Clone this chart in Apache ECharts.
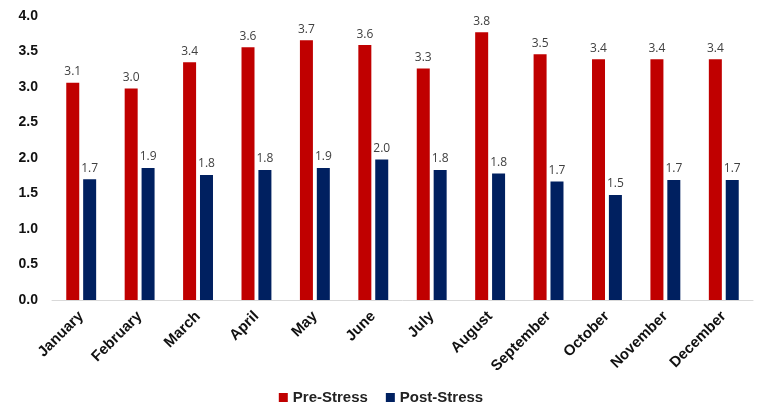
<!DOCTYPE html>
<html>
<head>
<meta charset="utf-8">
<script src="https://cdn.jsdelivr.net/npm/echarts@6/dist/echarts.min.js"></script>
<style>
  html, body { margin: 0; padding: 0; background: #fff; }
  #chart { width: 762px; height: 410px; }
</style>
</head>
<body>
<div id="chart"></div>
<script>
const months = ['January', 'February', 'March', 'April', 'May', 'June', 'July', 'August', 'September', 'October', 'November', 'December']
const preStress = [3.06, 2.98, 3.35, 3.56, 3.66, 3.59, 3.26, 3.77, 3.46, 3.39, 3.39, 3.39]
const postStress = [1.70, 1.86, 1.76, 1.83, 1.86, 1.98, 1.83, 1.78, 1.67, 1.48, 1.69, 1.69]

const chart = echarts.init(document.getElementById('chart'))

const labelStyle = {
  show: true,
  position: 'top',
  distance: 5,
  color: '#404040',
  fontSize: 12,
  fontFamily: 'Open Sans',
  formatter: p => p.value.toFixed(1),
}

chart.setOption({
  animation: false,
  backgroundColor: '#fff',
  grid: { left: 52, right: 9, top: 16, bottom: 110 },
  legend: {
    bottom: 0,
    left: 'center',
    itemWidth: 9,
    itemHeight: 9,
    itemGap: 18,
    icon: 'rect',
    textStyle: { fontSize: 15, fontWeight: 'bold', color: '#222', fontFamily: 'Liberation Sans' },
    data: ['Pre-Stress', 'Post-Stress'],
  },
  xAxis: {
    type: 'category',
    data: months,
    axisLine: { lineStyle: { color: '#d9d9d9', width: 1 } },
    axisTick: { show: false },
    axisLabel: {
      rotate: 45,
      interval: 0,
      margin: 14,
      color: '#111',
      fontSize: 15,
      fontWeight: 'bold',
      fontFamily: 'Liberation Sans',
    },
  },
  yAxis: {
    type: 'value',
    min: 0,
    max: 4,
    interval: 0.5,
    splitLine: { show: false },
    axisLine: { show: false },
    axisLabel: {
      margin: 14,
      color: '#111',
      fontSize: 14,
      fontWeight: 'bold',
      fontFamily: 'Liberation Sans',
      formatter: v => v.toFixed(1),
    },
  },
  series: [
    {
      name: 'Pre-Stress',
      type: 'bar',
      data: preStress,
      barWidth: 13,
      barGap: '30%',
      itemStyle: { color: '#C00000' },
      label: labelStyle,
    },
    {
      name: 'Post-Stress',
      type: 'bar',
      data: postStress,
      barWidth: 13,
      itemStyle: { color: '#002060' },
      label: labelStyle,
    },
  ],
})
</script>
</body>
</html>
